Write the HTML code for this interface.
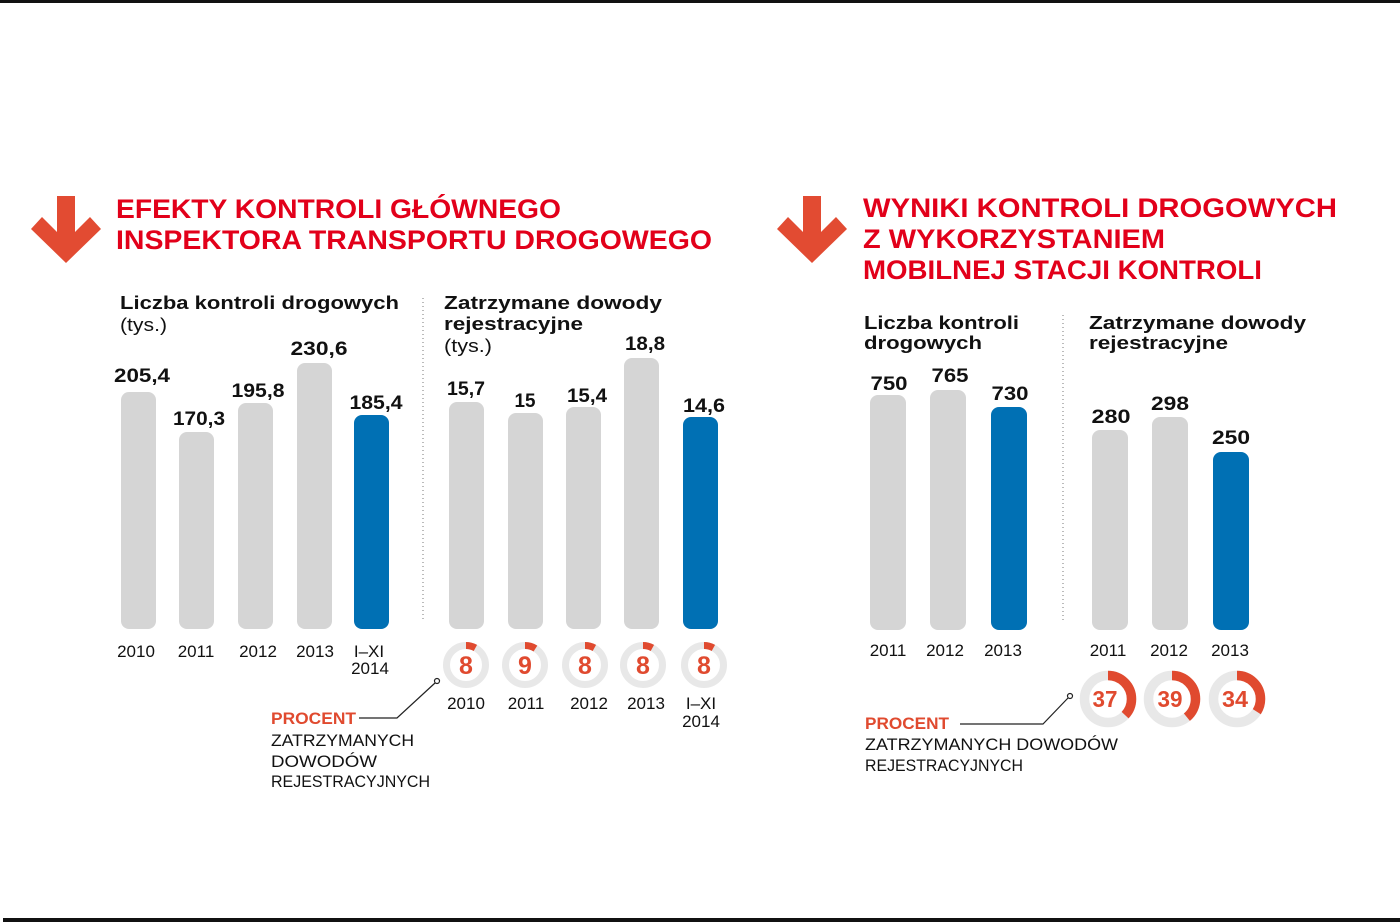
<!DOCTYPE html>
<html><head><meta charset="utf-8"><style>
html,body{margin:0;padding:0;background:#fff;}
svg{display:block;}
text{font-family:"Liberation Sans",sans-serif;}
.t{font-weight:bold;fill:#e2001a;font-size:27px;}
.s{font-weight:bold;fill:#111;font-size:18px;}
.r{fill:#111;font-size:18px;}
.v{font-weight:bold;fill:#111;font-size:19px;}
.y{fill:#111;font-size:17px;}
.p{font-weight:bold;fill:#e04a2f;font-size:17px;}
.l{fill:#111;font-size:17px;}
.d{font-weight:bold;fill:#e04a2f;}
</style></head><body>
<svg width="1400" height="922" viewBox="0 0 1400 922" xmlns="http://www.w3.org/2000/svg">
<rect x="0" y="0" width="1400" height="922" fill="#fff"/>
<rect x="0" y="0" width="1400" height="3" fill="#111"/>
<rect x="3" y="918" width="1397" height="4" fill="#111"/>

<!-- arrows -->
<polygon points="57,196 75,196 75,232 90,217 101,229 66,263 31,229 42,217 57,232" fill="#e24b32"/>
<polygon points="803,196 821,196 821,232 836,217 847,229 812,263 777,229 788,217 803,232" fill="#e24b32"/>

<!-- titles -->
<text class="t" x="116" y="218" textLength="445" lengthAdjust="spacingAndGlyphs">EFEKTY KONTROLI GŁÓWNEGO</text>
<text class="t" x="116" y="249" textLength="596" lengthAdjust="spacingAndGlyphs">INSPEKTORA TRANSPORTU DROGOWEGO</text>
<text class="t" x="863" y="217" textLength="474" lengthAdjust="spacingAndGlyphs">WYNIKI KONTROLI DROGOWYCH</text>
<text class="t" x="863" y="248" textLength="302" lengthAdjust="spacingAndGlyphs">Z WYKORZYSTANIEM</text>
<text class="t" x="863" y="279" textLength="399" lengthAdjust="spacingAndGlyphs">MOBILNEJ STACJI KONTROLI</text>

<!-- subtitles -->
<text class="s" x="120" y="309" textLength="279" lengthAdjust="spacingAndGlyphs">Liczba kontroli drogowych</text>
<text class="r" x="120" y="331" textLength="47" lengthAdjust="spacingAndGlyphs">(tys.)</text>
<text class="s" x="444" y="309" textLength="218" lengthAdjust="spacingAndGlyphs">Zatrzymane dowody</text>
<text class="s" x="444" y="330" textLength="139" lengthAdjust="spacingAndGlyphs">rejestracyjne</text>
<text class="r" x="444" y="352" textLength="48" lengthAdjust="spacingAndGlyphs">(tys.)</text>
<text class="s" x="864" y="329" textLength="155" lengthAdjust="spacingAndGlyphs">Liczba kontroli</text>
<text class="s" x="864" y="349" textLength="118" lengthAdjust="spacingAndGlyphs">drogowych</text>
<text class="s" x="1089" y="329" textLength="217" lengthAdjust="spacingAndGlyphs">Zatrzymane dowody</text>
<text class="s" x="1089" y="349" textLength="139" lengthAdjust="spacingAndGlyphs">rejestracyjne</text>

<!-- separators -->
<line x1="423" y1="298" x2="423" y2="620" stroke="#777" stroke-width="1" stroke-dasharray="1 3"/>
<line x1="1063" y1="315" x2="1063" y2="620" stroke="#777" stroke-width="1" stroke-dasharray="1 3"/>

<!-- chart 1 bars -->
<g fill="#d5d5d5">
<rect x="121" y="392" width="35" height="237" rx="8"/>
<rect x="179" y="432" width="35" height="197" rx="8"/>
<rect x="238" y="403" width="35" height="226" rx="8"/>
<rect x="297" y="363" width="35" height="266" rx="8"/>
</g>
<rect x="354" y="415" width="35" height="214" rx="8" fill="#0070b4"/>
<g class="v" text-anchor="middle">
<text x="142" y="382" textLength="56" lengthAdjust="spacingAndGlyphs">205,4</text>
<text x="199" y="425" textLength="52" lengthAdjust="spacingAndGlyphs">170,3</text>
<text x="258" y="397" textLength="53" lengthAdjust="spacingAndGlyphs">195,8</text>
<text x="319" y="355" textLength="57" lengthAdjust="spacingAndGlyphs">230,6</text>
<text x="376" y="409" textLength="53" lengthAdjust="spacingAndGlyphs">185,4</text>
</g>
<g class="y" text-anchor="middle">
<text x="136" y="657">2010</text>
<text x="196" y="657">2011</text>
<text x="258" y="657">2012</text>
<text x="315" y="657">2013</text>
<text x="369" y="657">I–XI</text>
<text x="370" y="674">2014</text>
</g>

<!-- chart 2 bars -->
<g fill="#d5d5d5">
<rect x="449" y="402" width="35" height="227" rx="8"/>
<rect x="508" y="413" width="35" height="216" rx="8"/>
<rect x="566" y="407" width="35" height="222" rx="8"/>
<rect x="624" y="358" width="35" height="271" rx="8"/>
</g>
<rect x="683" y="417" width="35" height="212" rx="8" fill="#0070b4"/>
<g class="v" text-anchor="middle">
<text x="466" y="395" textLength="38" lengthAdjust="spacingAndGlyphs">15,7</text>
<text x="525" y="407" textLength="21" lengthAdjust="spacingAndGlyphs">15</text>
<text x="587" y="402" textLength="40" lengthAdjust="spacingAndGlyphs">15,4</text>
<text x="645" y="350" textLength="40" lengthAdjust="spacingAndGlyphs">18,8</text>
<text x="704" y="412" textLength="42" lengthAdjust="spacingAndGlyphs">14,6</text>
</g>

<!-- chart 2 donuts -->
<g fill="none" stroke-width="7">
<circle cx="466" cy="665" r="19.5" stroke="#e8e8e8"/>
<circle cx="525" cy="665" r="19.5" stroke="#e8e8e8"/>
<circle cx="585" cy="665" r="19.5" stroke="#e8e8e8"/>
<circle cx="643" cy="665" r="19.5" stroke="#e8e8e8"/>
<circle cx="704" cy="665" r="19.5" stroke="#e8e8e8"/>
<circle cx="466" cy="665" r="19.5" stroke="#e04a2f" stroke-dasharray="9.8 200" transform="rotate(-90 466 665)"/>
<circle cx="525" cy="665" r="19.5" stroke="#e04a2f" stroke-dasharray="11 200" transform="rotate(-90 525 665)"/>
<circle cx="585" cy="665" r="19.5" stroke="#e04a2f" stroke-dasharray="9.8 200" transform="rotate(-90 585 665)"/>
<circle cx="643" cy="665" r="19.5" stroke="#e04a2f" stroke-dasharray="9.8 200" transform="rotate(-90 643 665)"/>
<circle cx="704" cy="665" r="19.5" stroke="#e04a2f" stroke-dasharray="9.8 200" transform="rotate(-90 704 665)"/>
</g>
<g class="d" font-size="25" text-anchor="middle">
<text x="466" y="674">8</text>
<text x="525" y="674">9</text>
<text x="585" y="674">8</text>
<text x="643" y="674">8</text>
<text x="704" y="674">8</text>
</g>
<g class="y" text-anchor="middle">
<text x="466" y="709">2010</text>
<text x="526" y="709">2011</text>
<text x="589" y="709">2012</text>
<text x="646" y="709">2013</text>
<text x="701" y="709">I–XI</text>
<text x="701" y="727">2014</text>
</g>

<!-- legend left -->
<text class="p" x="271" y="724" textLength="85" lengthAdjust="spacingAndGlyphs">PROCENT</text>
<polyline points="359,718 397,718 435,683" fill="none" stroke="#222" stroke-width="1.2"/>
<circle cx="437" cy="681" r="2.5" fill="#fff" stroke="#222" stroke-width="1.2"/>
<text class="l" x="271" y="746" textLength="143" lengthAdjust="spacingAndGlyphs">ZATRZYMANYCH</text>
<text class="l" x="271" y="767" textLength="106" lengthAdjust="spacingAndGlyphs">DOWODÓW</text>
<text class="l" x="271" y="787" textLength="159" lengthAdjust="spacingAndGlyphs">REJESTRACYJNYCH</text>

<!-- chart 3 bars -->
<g fill="#d5d5d5">
<rect x="870" y="395" width="36" height="235" rx="8"/>
<rect x="930" y="390" width="36" height="240" rx="8"/>
</g>
<rect x="991" y="407" width="36" height="223" rx="8" fill="#0070b4"/>
<g class="v" text-anchor="middle">
<text x="889" y="390" textLength="37" lengthAdjust="spacingAndGlyphs">750</text>
<text x="950" y="382" textLength="37" lengthAdjust="spacingAndGlyphs">765</text>
<text x="1010" y="400" textLength="37" lengthAdjust="spacingAndGlyphs">730</text>
</g>
<g class="y" text-anchor="middle">
<text x="888" y="656">2011</text>
<text x="945" y="656">2012</text>
<text x="1003" y="656">2013</text>
</g>

<!-- chart 4 bars -->
<g fill="#d5d5d5">
<rect x="1092" y="430" width="36" height="200" rx="8"/>
<rect x="1152" y="417" width="36" height="213" rx="8"/>
</g>
<rect x="1213" y="452" width="36" height="178" rx="8" fill="#0070b4"/>
<g class="v" text-anchor="middle">
<text x="1111" y="423" textLength="39" lengthAdjust="spacingAndGlyphs">280</text>
<text x="1170" y="410" textLength="38" lengthAdjust="spacingAndGlyphs">298</text>
<text x="1231" y="444" textLength="38" lengthAdjust="spacingAndGlyphs">250</text>
</g>
<g class="y" text-anchor="middle">
<text x="1108" y="656">2011</text>
<text x="1169" y="656">2012</text>
<text x="1230" y="656">2013</text>
</g>

<!-- chart 4 donuts -->
<g fill="none" stroke-width="9.5">
<circle cx="1108" cy="699" r="23.5" stroke="#e8e8e8"/>
<circle cx="1172" cy="699" r="23.5" stroke="#e8e8e8"/>
<circle cx="1237" cy="699" r="23.5" stroke="#e8e8e8"/>
<circle cx="1108" cy="699" r="23.5" stroke="#e04a2f" stroke-dasharray="54.6 300" transform="rotate(-90 1108 699)"/>
<circle cx="1172" cy="699" r="23.5" stroke="#e04a2f" stroke-dasharray="57.6 300" transform="rotate(-90 1172 699)"/>
<circle cx="1237" cy="699" r="23.5" stroke="#e04a2f" stroke-dasharray="50.2 300" transform="rotate(-90 1237 699)"/>
</g>
<g class="d" font-size="23" text-anchor="middle">
<text x="1105" y="707" textLength="25" lengthAdjust="spacingAndGlyphs">37</text>
<text x="1170" y="707" textLength="25" lengthAdjust="spacingAndGlyphs">39</text>
<text x="1235" y="707" textLength="26" lengthAdjust="spacingAndGlyphs">34</text>
</g>

<!-- legend right -->
<text class="p" x="865" y="729" textLength="84" lengthAdjust="spacingAndGlyphs">PROCENT</text>
<polyline points="960,724 1043,724 1068,698" fill="none" stroke="#222" stroke-width="1.2"/>
<circle cx="1070" cy="696" r="2.5" fill="#fff" stroke="#222" stroke-width="1.2"/>
<text class="l" x="865" y="750" textLength="253" lengthAdjust="spacingAndGlyphs">ZATRZYMANYCH DOWODÓW</text>
<text class="l" x="865" y="771" textLength="158" lengthAdjust="spacingAndGlyphs">REJESTRACYJNYCH</text>
</svg>
</body></html>
